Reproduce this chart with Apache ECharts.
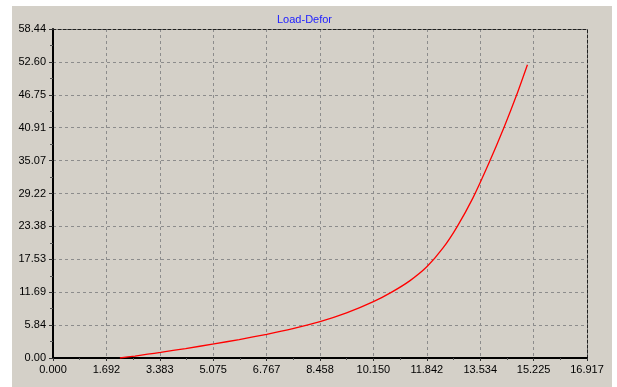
<!DOCTYPE html>
<html>
<head>
<meta charset="utf-8">
<script src="https://cdn.jsdelivr.net/npm/echarts@6/dist/echarts.min.js"></script>
<style>
  html, body { margin: 0; padding: 0; background: #ffffff; width: 617px; height: 387px; overflow: hidden; }
  #chart { position: absolute; left: 12px; top: 6px; width: 600px; height: 381px; background: #d4d0c8; }
</style>
</head>
<body>
<div id="chart"></div>
<script>
// Load–deformation curve samples
const deformation = [2.12, 2.6, 3.0, 3.41, 4.2, 5.10, 5.9, 6.77, 7.6, 8.46, 9.3, 10.15, 10.73, 11.3, 11.842, 12.35, 12.8, 13.3, 13.8, 14.29, 14.69, 15.03];
const load        = [0.0, 0.35, 0.67, 1.0, 1.68, 2.5, 3.28, 4.2, 5.2, 6.45, 8.0, 10.0, 11.7, 13.7, 16.2, 19.5, 23.3, 28.4, 34.5, 41.0, 46.75, 52.1];

// Axis tick labels
const xTickLabels = ['0.000', '1.692', '3.383', '5.075', '6.767', '8.458', '10.150', '11.842', '13.534', '15.225', '16.917'];
const yTickLabels = ['0.00', '5.84', '11.69', '17.53', '23.38', '29.22', '35.07', '40.91', '46.75', '52.60', '58.44'];

const xMax = 16.917, yMax = 58.44;
const xStep = xMax / 10, yStep = yMax / 10;

const chart = echarts.init(document.getElementById('chart'));
const font = { fontFamily: 'Liberation Sans', fontSize: 11, color: '#000000' };
const gridDash = { color: '#8c8c8c', width: 1, type: [3, 3] };

chart.setOption({
  animation: false,
  backgroundColor: '#d4d0c8',
  title: {
    text: 'Load-Defor',
    left: 260, top: 3,
    textStyle: { fontFamily: 'Liberation Sans', fontSize: 11, fontWeight: 'normal', color: '#2020ff' }
  },
  grid: { left: 41, top: 23, right: 25, bottom: 29, containLabel: false },
  xAxis: [{
    type: 'value', min: 0, max: xMax, interval: xStep,
    axisLine: { show: true, onZero: false, lineStyle: { color: '#000', width: 2 } },
    axisTick: { show: true, length: 3, lineStyle: { color: '#333' } },
    minorTick: { show: true, splitNumber: 2, length: 2, lineStyle: { color: '#555' } },
    axisLabel: Object.assign({ margin: 6, formatter: v => xTickLabels[Math.round(v / xStep)] }, font),
    splitLine: { show: true, lineStyle: gridDash }
  }, {
    type: 'value', min: 0, max: xMax, interval: xStep, position: 'top',
    axisLine: { show: true, onZero: false, lineStyle: { color: '#202020', width: 1, type: [3, 2] } },
    axisTick: { show: false }, axisLabel: { show: false }, splitLine: { show: false }
  }],
  yAxis: [{
    type: 'value', min: 0, max: yMax, interval: yStep,
    axisLine: { show: true, onZero: false, lineStyle: { color: '#000', width: 2 } },
    axisTick: { show: true, length: 4, lineStyle: { color: '#333' } },
    minorTick: { show: true, splitNumber: 2, length: 3, lineStyle: { color: '#555' } },
    axisLabel: Object.assign({ margin: 7, formatter: v => yTickLabels[Math.round(v / yStep)] }, font),
    splitLine: { show: true, lineStyle: gridDash }
  }, {
    type: 'value', min: 0, max: yMax, interval: yStep, position: 'right',
    axisLine: { show: true, onZero: false, lineStyle: { color: '#202020', width: 1, type: [3, 2] } },
    axisTick: { show: false }, axisLabel: { show: false }, splitLine: { show: false }
  }],
  series: [{
    type: 'line',
    xAxisIndex: 0, yAxisIndex: 0,
    data: deformation.map((d, i) => [d, load[i]]),
    showSymbol: false,
    smooth: 0.2,
    lineStyle: { color: '#ff0000', width: 1.3 }
  }]
});
</script>
</body>
</html>
